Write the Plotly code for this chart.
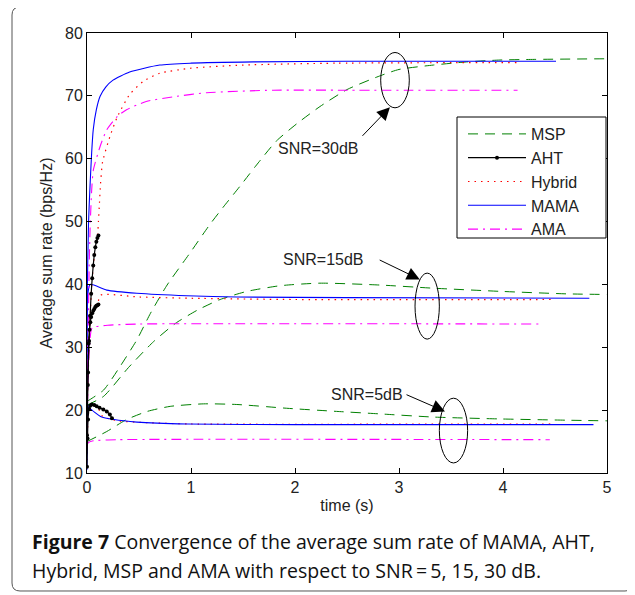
import plotly.graph_objects as go

# ---------------- data ----------------
# MSP (green dashed)
msp30_t = [0, 0.03, 0.16, 0.32, 0.48, 0.61, 0.77, 0.99, 1.18, 1.31, 1.47, 1.63, 1.82, 2.02, 2.24, 2.5, 2.82, 3.0, 3.33, 3.65, 3.97, 4.3, 5.0]
msp30_y = [21.4, 21.7, 23.2, 27.0, 31.2, 35.4, 39.9, 45.0, 49.5, 52.3, 55.6, 59.0, 62.8, 65.6, 68.3, 71.0, 73.2, 74.2, 74.9, 75.4, 75.7, 75.8, 75.9]
msp15_t = [0, 0.16, 0.4, 0.64, 0.85, 1.06, 1.28, 1.54, 1.86, 2.24, 2.82, 3.33, 3.97, 4.61, 5.0]
msp15_y = [20.8, 22.2, 26.8, 30.9, 33.8, 35.9, 37.6, 38.9, 39.8, 40.2, 39.9, 39.4, 38.9, 38.5, 38.4]
msp5_t = [0, 0.19, 0.38, 0.58, 0.8, 1.12, 1.44, 1.92, 2.4, 2.82, 3.33, 3.97, 4.61, 5.0]
msp5_y = [15.0, 16.6, 18.5, 19.8, 20.6, 21.0, 20.9, 20.3, 19.8, 19.4, 18.9, 18.6, 18.4, 18.3]

# AHT (black, solid with dots)
aht30_t = [0, 0.01, 0.02, 0.03, 0.04, 0.05, 0.06, 0.07, 0.08, 0.09, 0.1, 0.11]
aht30_y = [20.0, 26.0, 31.0, 35.0, 38.5, 41.0, 43.0, 44.7, 45.9, 46.8, 47.4, 47.8]
aht15_t = [0, 0.008, 0.016, 0.024, 0.032, 0.04, 0.05, 0.06, 0.07, 0.08, 0.09, 0.1, 0.11]
aht15_y = [16.0, 24.0, 30.6, 32.8, 34.0, 34.8, 35.4, 35.8, 36.1, 36.4, 36.6, 36.7, 36.8]
aht5_t = [0, 0.005, 0.01, 0.02, 0.03, 0.045, 0.07, 0.093, 0.12, 0.157, 0.19, 0.22, 0.24]
aht5_y = [11.0, 15.5, 18.5, 20.2, 20.7, 20.9, 20.8, 20.6, 20.4, 20.1, 19.8, 19.3, 18.7]

# Hybrid (red dotted)
hyb30_t = [0, 0.02, 0.05, 0.08, 0.1, 0.11, 0.12, 0.13, 0.15, 0.22, 0.29, 0.41, 0.54, 0.7, 1.0, 1.5, 2.4, 4.13]
hyb30_y = [20.0, 31.0, 41.0, 45.9, 47.6, 50.0, 53.0, 56.0, 59.5, 63.5, 66.6, 70.2, 72.3, 73.6, 74.4, 74.9, 75.2, 75.3]
hyb15_t = [0, 0.016, 0.04, 0.07, 0.1, 0.13, 0.5, 1.0, 2.0, 4.48]
hyb15_y = [16.0, 30.6, 34.8, 36.1, 36.7, 38.3, 38.0, 37.8, 37.6, 37.6]
hyb5_t = [0, 0.01, 0.03, 0.1, 0.15, 0.3, 0.6, 1.0, 4.48]
hyb5_y = [11.0, 18.5, 20.7, 20.5, 19.0, 18.3, 18.0, 17.8, 17.8]

# MAMA (blue solid)
mama30_t = [0, 0.003, 0.015, 0.03, 0.045, 0.06, 0.09, 0.125, 0.18, 0.25, 0.41, 0.7, 1.0, 1.6, 2.5, 4.51]
mama30_y = [14.0, 39.0, 50.0, 56.0, 61.0, 64.6, 67.8, 69.9, 71.4, 72.5, 73.8, 74.9, 75.2, 75.4, 75.5, 75.5]
mama15_t = [0, 0.005, 0.03, 0.19, 0.48, 0.96, 1.44, 2.5, 4.83]
mama15_y = [13.0, 38.0, 40.0, 39.1, 38.6, 38.2, 38.0, 37.9, 37.8]
mama5_t = [0, 0.005, 0.02, 0.03, 0.13, 0.26, 0.48, 0.96, 2.0, 4.87]
mama5_y = [10.5, 19.0, 20.8, 20.3, 19.0, 18.5, 18.1, 17.8, 17.7, 17.7]

# AMA (magenta dash-dot)
ama30_t = [0, 0.01, 0.02, 0.03, 0.045, 0.061, 0.125, 0.19, 0.29, 0.38, 0.57, 0.85, 1.15, 1.79, 2.5, 4.14]
ama30_y = [16.0, 30.0, 42.0, 49.0, 55.0, 58.2, 61.9, 64.6, 66.7, 67.8, 69.1, 69.9, 70.5, 70.9, 70.9, 70.9]
ama15_t = [0, 0.01, 0.03, 0.05, 0.2, 0.5, 4.38]
ama15_y = [14.0, 25.0, 31.5, 33.1, 33.5, 33.7, 33.7]
ama5_t = [0, 0.01, 0.05, 0.3, 4.45]
ama5_y = [14.2, 14.8, 15.1, 15.3, 15.3]

series_names = ["MSP", "AHT", "Hybrid", "MAMA", "AMA"]

# annotation texts
snr_labels = ["SNR=30dB", "SNR=15dB", "SNR=5dB"]
x_title = "time (s)"
y_title = "Average sum rate (bps/Hz)"
caption_bold = "Figure 7"
caption_1 = " Convergence of the average sum rate of MAMA, AHT,"
caption_2 = "Hybrid, MSP and AMA with respect to SNR\u2009=\u20095, 15, 30 dB."

# ---------------- figure ----------------
FONT = "Liberation Sans, Arial, sans-serif"
CAPFONT = "Open Sans, sans-serif"
styles = {
    "MSP": dict(color="#008000", width=1, dash="10px,7px"),
    "AHT": dict(color="#000000", width=1.2),
    "Hybrid": dict(color="#ff0000", width=1.2, dash="1.5px,5px"),
    "MAMA": dict(color="#0000ff", width=1.1),
    "AMA": dict(color="#ff00ff", width=1.1, dash="10px,5px,2px,5px"),
}
data = {
    "MSP": [(msp30_t, msp30_y), (msp15_t, msp15_y), (msp5_t, msp5_y)],
    "AHT": [(aht30_t, aht30_y), (aht15_t, aht15_y), (aht5_t, aht5_y)],
    "Hybrid": [(hyb30_t, hyb30_y), (hyb15_t, hyb15_y), (hyb5_t, hyb5_y)],
    "MAMA": [(mama30_t, mama30_y), (mama15_t, mama15_y), (mama5_t, mama5_y)],
    "AMA": [(ama30_t, ama30_y), (ama15_t, ama15_y), (ama5_t, ama5_y)],
}
draw_order = ["MSP", "Hybrid", "MAMA", "AMA", "AHT"]

fig = go.Figure()
for name in draw_order:
    rank = series_names.index(name) + 1
    for i, (t, y) in enumerate(data[name]):
        if name == "AHT":
            kw = dict(mode="lines+markers", marker=dict(color="black", size=4))
        else:
            kw = dict(mode="lines")
        fig.add_trace(go.Scatter(
            x=t, y=y, name=name, legendgroup=name, showlegend=(i == 0),
            legendrank=rank, line=dict(shape="spline", smoothing=0.6, **styles[name]), **kw))

# ellipses: (x0, x1, y0, y1)
ellipses = [(2.824, 3.099, 68.1, 76.9), (3.154, 3.388, 31.3, 41.8), (3.388, 3.66, 11.6, 21.9)]
for x0, x1, y0, y1 in ellipses:
    fig.add_shape(type="circle", xref="x", yref="y", x0=x0, x1=x1, y0=y0, y1=y1,
                  line=dict(color="black", width=1))

# labels and arrows
label_pos = [(2.23, 61.7), (2.27, 43.9), (2.69, 22.45)]
arrows = [((2.635, 63.4), (2.913, 68.2)), ((2.80, 44.0), (3.20, 40.8)), ((3.058, 22.56), (3.442, 19.8))]
for txt, (lx, ly), ((tx, ty), (hx, hy)) in zip(snr_labels, label_pos, arrows):
    fig.add_annotation(x=lx, y=ly, text=txt, showarrow=False, xref="x", yref="y",
                       font=dict(family=FONT, size=16, color="#222"))
    fig.add_annotation(x=hx, y=hy, ax=tx, ay=ty, axref="x", ayref="y", xref="x", yref="y",
                       text="", showarrow=True, arrowhead=2, arrowsize=2.6, arrowwidth=1,
                       arrowcolor="black")


# helpers: reference-pixel -> paper coords (plot area 87..607 x 33..473)
def px2paper(px, py):
    return (px - 87) / 520, (473 - py) / 440


def P(px, py):
    x, y = px2paper(px, py)
    return f"{x:.5f},{y:.5f}"


# caption
cx, cy1 = px2paper(30, 541)
_, cy2 = px2paper(30, 570)
fig.add_annotation(xref="paper", yref="paper", x=cx, y=cy1, xanchor="left", yanchor="middle",
                   text="<b>" + caption_bold + "</b>" + caption_1, showarrow=False,
                   font=dict(family=CAPFONT, size=19.5, color="#111"))
fig.add_annotation(xref="paper", yref="paper", x=cx, y=cy2, xanchor="left", yanchor="middle",
                   text=caption_2, showarrow=False,
                   font=dict(family=CAPFONT, size=19.5, color="#111"))

# rounded frame around the whole panel
L, T, R, B, r = 12, 7, 633, 591, 8
path = (f"M {P(L + r, T)} L {P(R - r, T)} Q {P(R, T)} {P(R, T + r)} L {P(R, B - r)} "
        f"Q {P(R, B)} {P(R - r, B)} L {P(L + r, B)} Q {P(L, B)} {P(L, B - r)} "
        f"L {P(L, T + r)} Q {P(L, T)} {P(L + r, T)} Z")
fig.add_shape(type="path", xref="paper", yref="paper", path=path,
              line=dict(color="#555", width=1), layer="below")

# legend box
lx0, ly0 = px2paper(457, 117)
lx1, ly1 = px2paper(606, 238)
fig.add_shape(type="rect", xref="paper", yref="paper", x0=lx0, x1=lx1, y0=ly1, y1=ly0,
              line=dict(color="black", width=1), fillcolor="white", layer="above")
legx, legy = px2paper(463, 117)

axis_common = dict(showline=True, linecolor="black", linewidth=1, mirror="ticks",
                   ticks="inside", ticklen=5, tickcolor="black", showgrid=False, zeroline=False,
                   tickfont=dict(family=FONT, size=16, color="#222"))
# page body has an 8px default margin: figure is shrunk/shifted accordingly
fig.update_layout(
    width=627, height=587, autosize=False,
    margin=dict(l=79, r=28, t=25, b=122),
    paper_bgcolor="white", plot_bgcolor="white",
    xaxis=dict(range=[0, 5], dtick=1, tick0=0,
               title=dict(text=x_title, font=dict(family=FONT, size=16, color="#222"), standoff=4),
               **axis_common),
    yaxis=dict(range=[10, 80], dtick=10, tick0=10,
               title=dict(text=y_title, font=dict(family=FONT, size=16, color="#222"), standoff=8),
               **axis_common),
    legend=dict(x=legx, xanchor="left", y=legy, yanchor="top", bgcolor="rgba(0,0,0,0)",
                borderwidth=0, itemwidth=58,
                font=dict(family=FONT, size=16, color="#222"), tracegroupgap=0),
    showlegend=True,
)
fig.write_html("out.html")
